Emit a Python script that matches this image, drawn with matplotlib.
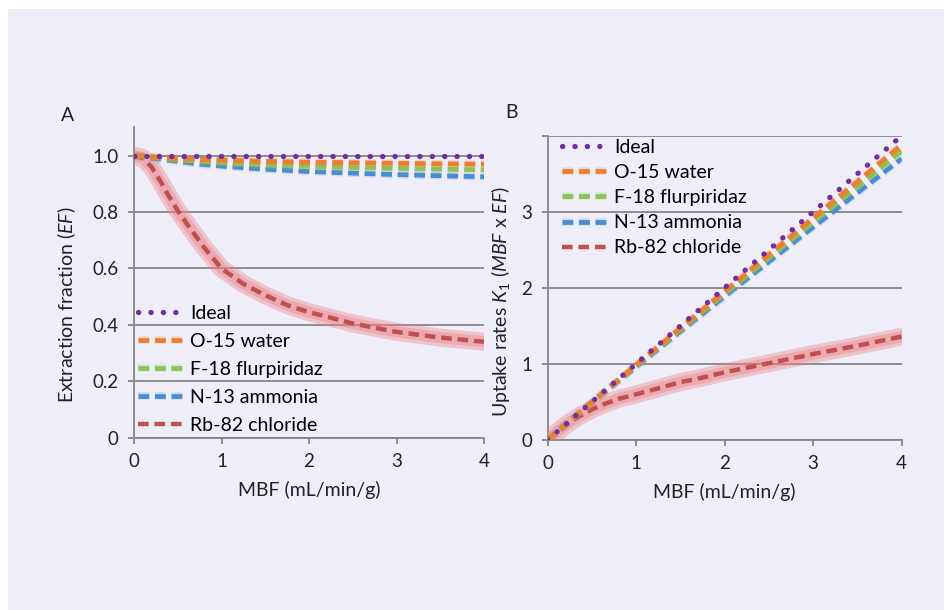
import numpy as np
import matplotlib
matplotlib.use('Agg')
import matplotlib.pyplot as plt
import matplotlib.patheffects as pe
from matplotlib.patches import Rectangle

plt.rcParams['font.family'] = ['Lato', 'DejaVu Sans']
plt.rcParams['mathtext.fontset'] = 'custom'
plt.rcParams['mathtext.rm'] = 'Lato'
plt.rcParams['mathtext.it'] = 'Lato:italic'

# MBF values (mL/min/g)
mbf = [0, 0.25, 0.5, 0.75, 1, 1.5, 2, 2.5, 3, 3.5, 4]
mbf_rb = [0, 0.1, 0.2, 0.3, 0.4, 0.5, 0.6, 0.8, 1.0, 1.25, 1.5, 1.75, 2.0, 2.5, 3.0, 3.5, 4.0]

# panel A: extraction fraction
ef_ideal = [1, 1, 1, 1, 1, 1, 1, 1, 1, 1, 1]
ef_o15 = [1.0, 0.995, 0.99, 0.987, 0.985, 0.98, 0.977, 0.975, 0.973, 0.971, 0.97]
ef_f18 = [1.0, 0.993, 0.985, 0.98, 0.975, 0.967, 0.962, 0.958, 0.955, 0.952, 0.95]
ef_n13 = [1.0, 0.99, 0.98, 0.97, 0.963, 0.952, 0.944, 0.938, 0.933, 0.929, 0.925]
ef_rb82 = [1.0, 0.992, 0.96, 0.91, 0.855, 0.805, 0.76, 0.675, 0.6, 0.545, 0.505, 0.47, 0.445, 0.405, 0.375, 0.355, 0.34]

# panel B: uptake rates K1
k1_ideal = [0, 0.25, 0.5, 0.75, 1, 1.5, 2, 2.5, 3, 3.5, 4]
k1_o15 = [0, 0.249, 0.495, 0.74, 0.985, 1.47, 1.954, 2.438, 2.919, 3.399, 3.88]
k1_f18 = [0, 0.248, 0.493, 0.735, 0.975, 1.45, 1.924, 2.395, 2.865, 3.332, 3.8]
k1_n13 = [0, 0.248, 0.49, 0.728, 0.963, 1.428, 1.888, 2.345, 2.799, 3.25, 3.7]
k1_rb82 = [0, 0.1, 0.19, 0.27, 0.34, 0.4, 0.455, 0.54, 0.6, 0.68, 0.76, 0.82, 0.89, 1.01, 1.13, 1.24, 1.36]

labels = ['Ideal', 'O-15 water', 'F-18 flurpiridaz', 'N-13 ammonia', 'Rb-82 chloride']
colors = ['#7030A0', '#ED7D31', '#8DC255', '#4A8BD2', '#C0504D']

bg = '#EFEEF8'
grid_c = '#858585'
txt_c = '#222222'

fig = plt.figure(figsize=(9.44, 6.1), dpi=100)
fig.patch.set_facecolor('white')
fig.add_artist(Rectangle((8/944, 0), 1, 1 - 9/610, transform=fig.transFigure,
                         facecolor=bg, edgecolor='none', zorder=0))

axA = fig.add_axes([0.142, 0.2825, 0.3707, 0.5085])
axB = fig.add_axes([0.580, 0.2787, 0.375, 0.4985])


def draw(ax, xs, xr, ys):
    # ideal dotted
    ax.plot(xs, ys[0], color=colors[0], lw=3.8, dashes=(0.05, 2.3),
            dash_capstyle='round', label=labels[0], zorder=6)
    for i in (1, 2, 3):
        ax.plot(xs, ys[i], color=colors[i], lw=3.4, dashes=(2.3, 1.2),
                label=labels[i], zorder=5 - i * 0.1,
                path_effects=[pe.Stroke(linewidth=5.5, foreground=colors[i], alpha=0.2),
                              pe.Normal()])
    # red halo
    ax.plot(xr, ys[4], color='#EB7F86', lw=13, alpha=0.38, solid_capstyle='round', zorder=3)
    ax.plot(xr, ys[4], color='#EB7F86', lw=8, alpha=0.38, solid_capstyle='round', zorder=3)
    ax.plot(xr, ys[4], color=colors[4], lw=3.2, dashes=(2.4, 1.3),
            label=labels[4], zorder=4)


def style(ax):
    ax.set_facecolor('none')
    ax.set_axisbelow(True)
    for s in ('top', 'right'):
        ax.spines[s].set_visible(False)
    for s in ('left', 'bottom'):
        ax.spines[s].set_color(grid_c)
        ax.spines[s].set_linewidth(1.3)
    ax.tick_params(direction='out', length=4, width=1.3, color=grid_c,
                   labelsize=13.5, labelcolor=txt_c, pad=7)
    ax.grid(axis='y', color=grid_c, lw=1.3)
    ax.set_xlim(0, 4)
    ax.set_xticks([0, 1, 2, 3, 4])
    ax.set_xlabel('MBF (mL/min/g)', fontsize=14, color=txt_c)
    ax.xaxis.set_label_coords(0.5, -0.14)


draw(axA, mbf, mbf_rb, [ef_ideal, ef_o15, ef_f18, ef_n13, ef_rb82])
style(axA)
axA.set_ylim(0, 1.1)
axA.set_yticks([0, 0.2, 0.4, 0.6, 0.8, 1.0])
axA.set_yticklabels(['0', '0.2', '0.4', '0.6', '0.8', '1.0'])
axA.set_ylabel('Extraction fraction ($\\mathit{EF}$)', fontsize=14, color=txt_c)
axA.yaxis.set_label_coords(-0.16, 0.43)
axA.legend(loc='lower left', bbox_to_anchor=(-0.01, -0.012), frameon=False,
           fontsize=14, handlelength=2.4, handletextpad=0.25, labelspacing=0.56,
           borderaxespad=0)
axA.text(-0.21, 1.02, 'A', transform=axA.transAxes, fontsize=14, color=txt_c)

draw(axB, mbf, mbf_rb, [k1_ideal, k1_o15, k1_f18, k1_n13, k1_rb82])
style(axB)
axB.set_ylim(0, 4)
axB.set_yticks([0, 1, 2, 3, 4])
axB.set_yticklabels(['0', '1', '2', '3', ''])
axB.set_ylabel('Uptake rates $K_1$ ($\\mathit{MBF}$ x $\\mathit{EF}$)', fontsize=14, color=txt_c)
axB.yaxis.set_label_coords(-0.10, 0.454)
axB.legend(loc='upper left', bbox_to_anchor=(0.02, 1.016), frameon=False,
           fontsize=14, handlelength=2.4, handletextpad=0.25, labelspacing=0.42,
           borderaxespad=0)
axB.text(-0.12, 1.06, 'B', transform=axB.transAxes, fontsize=14, color=txt_c)

fig.savefig('out.png', dpi=100, facecolor=fig.get_facecolor())
